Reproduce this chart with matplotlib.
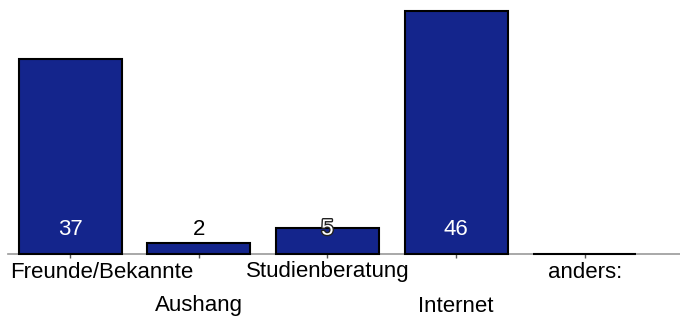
import matplotlib
matplotlib.use("Agg")
import matplotlib.pyplot as plt
import matplotlib.patheffects as pe

categories = ["Freunde/Bekannte", "Aushang", "Studienberatung", "Internet", "anders:"]
values = [37, 2, 5, 46, 0]

BAR_COLOR = "#14258c"
LABEL_Y = 4.7  # value labels sit at a fixed height near the baseline

plt.rcParams["font.family"] = ["Liberation Sans", "DejaVu Sans"]

fig = plt.figure(figsize=(6.8, 3.2), dpi=100)
ax = fig.add_axes([8 / 680, 66 / 320, 672 / 680, 254 / 320])

x = list(range(len(categories)))
ax.bar(x, values, width=0.8, color=BAR_COLOR, edgecolor="black", linewidth=1.5,
       zorder=3, clip_on=False)

ax.set_xlim(-0.482, 4.74)
ax.set_ylim(0, 48.1)

for side in ("top", "left", "right"):
    ax.spines[side].set_visible(False)
ax.spines["bottom"].set_color("#999999")
ax.spines["bottom"].set_linewidth(1.2)
ax.set_yticks([])
ax.set_xticks(x)
ax.set_xticklabels([])
ax.tick_params(axis="x", direction="out", length=3, color="#555555", width=1)

# value labels
for xi, v in zip(x, values):
    if v == 0:
        continue
    if v > LABEL_Y + 3:
        ax.text(xi, LABEL_Y, str(v), ha="center", va="center", fontsize=16,
                color="white", zorder=4)
    elif v < LABEL_Y - 1.5:
        ax.text(xi, LABEL_Y, str(v), ha="center", va="center", fontsize=16,
                color="black", zorder=4)
    else:
        ax.text(xi, LABEL_Y, str(v), ha="center", va="center", fontsize=16,
                color="white", zorder=4,
                path_effects=[pe.withStroke(linewidth=2, foreground="#222222")])

# staggered category labels
trans = ax.get_xaxis_transform()
row_y = [-(272 - 254) / 254, -(306 - 254) / 254]
for i, (xi, name) in enumerate(zip(x, categories)):
    if i == 0:
        ax.text(-0.466, row_y[0], name, ha="left", va="center", fontsize=16,
                transform=trans, clip_on=False)
    else:
        ax.text(xi, row_y[i % 2], name, ha="center", va="center", fontsize=16,
                transform=trans, clip_on=False)

fig.savefig("out.png", dpi=100)
